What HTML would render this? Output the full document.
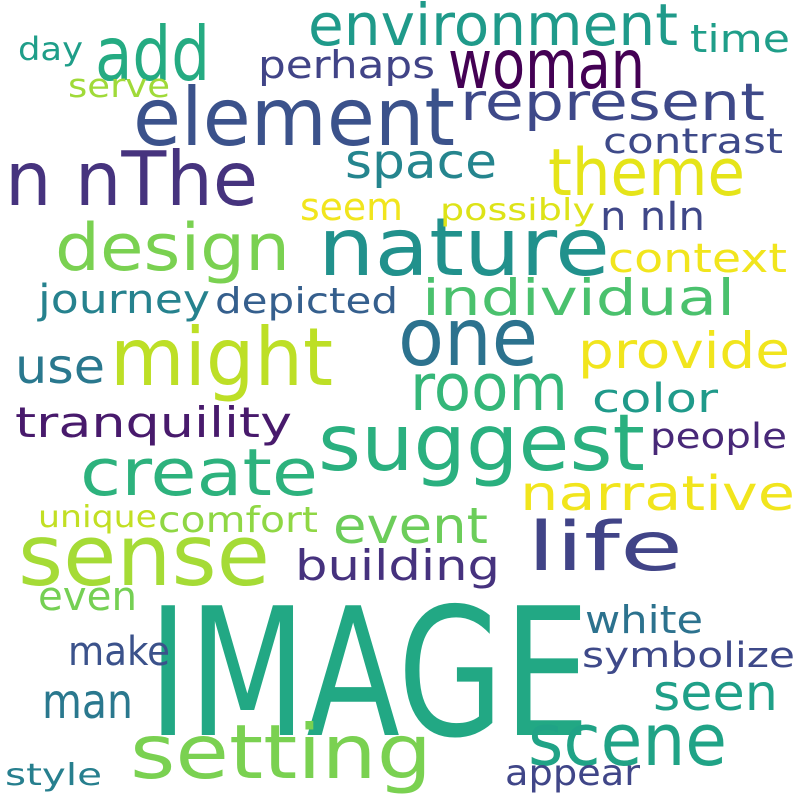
<!DOCTYPE html>
<html><head><meta charset="utf-8"><style>
html,body{margin:0;padding:0;background:#fff;}
svg text{font-family:"DejaVu Sans","Liberation Sans",sans-serif;}
</style></head><body>
<svg id="cloud" width="800" height="800" viewBox="0 0 800 800" xmlns="http://www.w3.org/2000/svg">
<rect width="800" height="800" fill="#ffffff"/>
</svg>
<script>
const words = ["IMAGE","setting","scene","sense","suggest","nature","one","might","element","n nThe","add","woman","environment","represent","theme","space","design","perhaps","time","day","serve","contrast","seem","possibly","n nIn","context","individual","journey","depicted","use","provide","room","color","tranquility","people","create","narrative","life","event","unique","comfort","building","even","white","make","symbolize","man","seen","style","appear"];
const sizes = [178,75,72,85,78,80,80,80,80,75,75,68,58,52,65,48,65,38,38,32,33,35,38,30,40,40,50,40,36,48,50,65,40,42,35,65,48,68,50,30,36,42,40,38,40,35,48,50,30,36];
const xLeft = [148,130,528,18,318,318,398,110,133,5,95,448,308,460,548,345,55,258,690,18,68,603,300,440,600,608,422,38,215,15,578,410,592,15,650,80,520,527,333,38,158,295,38,585,68,582,42,653,5,505];
const xRight = [590,432,727,270,645,610,538,333,455,258,210,645,678,765,745,497,290,435,790,83,170,783,403,595,705,787,735,210,398,105,790,568,718,292,787,318,795,683,488,157,318,500,137,703,170,795,133,778,102,640];
const baselines = [735,778,765,585,470,275,365,385,145,205,80,88,45,120,195,178,270,78,52,60,97,153,220,220,230,272,315,313,313,383,368,410,412,437,448,495,510,570,543,527,532,580,610,633,665,667,718,710,785,785];
const colors = ["#22a884","#7ad151","#20a386","#a5db36","#2ab07f","#21918c","#2c728e","#bddf26","#3b528b","#46337e","#25ab82","#440154","#1f9a8a","#3e4989","#e5e419","#25858e","#7ad151","#414487","#1f9e89","#1f9e89","#a0da39","#3e4a89","#f1e51d","#dde318","#3f4788","#f1e51d","#4ac16d","#26828e","#355f8d","#2a788e","#f1e51d","#35b779","#1f9a8a","#481a6c","#482878","#2db27d","#f1e51d","#414487","#6ccd5a","#c2df23","#8fd744","#46327e","#75d054","#2c728e","#3b528b","#3e4989","#2a788e","#1fa088","#277f8e","#404688"];
const svg = document.getElementById('cloud');
const NS = 'http://www.w3.org/2000/svg';
for (let i = 0; i < words.length; i++) {
  const t = document.createElementNS(NS, 'text');
  t.setAttribute('x', xLeft[i]);
  t.setAttribute('y', baselines[i]);
  t.setAttribute('font-size', sizes[i]);
  t.setAttribute('fill', colors[i]);
  t.setAttribute('textLength', xRight[i] - xLeft[i]);
  t.setAttribute('lengthAdjust', 'spacingAndGlyphs');
  t.setAttribute('xml:space', 'preserve');
  t.textContent = words[i];
  
  
  svg.appendChild(t);
}
</script>
</body></html>
